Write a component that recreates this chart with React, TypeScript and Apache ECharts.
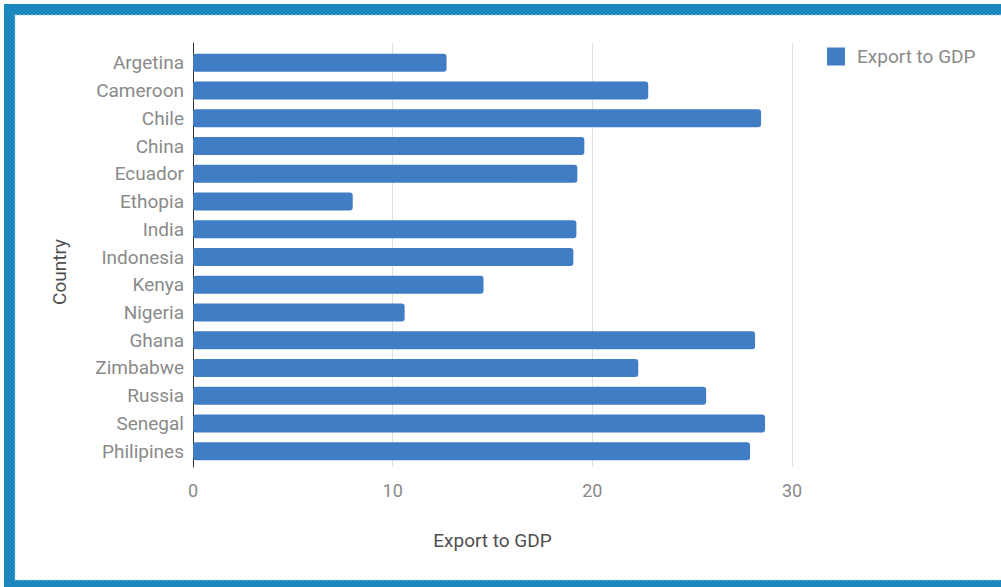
import React, { useEffect, useRef } from "react";
import * as echarts from "echarts";

const countries = [
  "Argetina", "Cameroon", "Chile", "China", "Ecuador", "Ethopia", "India",
  "Indonesia", "Kenya", "Nigeria", "Ghana", "Zimbabwe", "Russia", "Senegal", "Philipines",
];
const exportToGdp = [
  12.7, 22.8, 28.45, 19.6, 19.25, 8.0, 19.2, 19.05, 14.55, 10.6, 28.15, 22.3, 25.7, 28.65, 27.9,
];
const xTicks = [0, 10, 20, 30];
const seriesName = "Export to GDP";

export default function App() {
  const ref = useRef<HTMLDivElement>(null);
  useEffect(() => {
    if (!ref.current) return;
    const chart = echarts.init(ref.current, null, { renderer: "svg" });
    const font = "Roboto, 'Noto Sans', sans-serif";
    const xMin = xTicks[0];
    const xMax = xTicks[xTicks.length - 1];
    const xStep = xTicks[1] - xTicks[0];
    chart.setOption({
      animation: false,
      backgroundColor: "#ffffff",
      textStyle: { fontFamily: font },
      graphic: [
        { type: "rect", z: -10, silent: true, shape: { x: 4, y: 4, width: 997, height: 583 }, style: { fill: "#1b87bf" } },
        { type: "rect", z: -9, silent: true, shape: { x: 15, y: 15, width: 990, height: 565 }, style: { fill: "#ffffff", stroke: "#a9d0ea", lineWidth: 1, lineDash: [2, 2] } },
        {
          type: "text", x: 59, y: 272, rotation: Math.PI / 2,
          style: { text: "Country", font: `19px ${font}`, fill: "#505050", align: "center", verticalAlign: "middle" },
        },
      ],
      legend: {
        data: [seriesName],
        left: 827, top: 47, padding: 0,
        itemWidth: 18, itemHeight: 18,
        icon: "rect",
        textStyle: { fontSize: 19, color: "#8a8a8a", fontFamily: font, padding: [0, 0, 0, 7] },
      },
      grid: [
        { left: 193, top: 43, width: 599, height: 424, containLabel: false },
        { left: 193, top: 49, width: 599, height: 416, containLabel: false },
      ],
      xAxis: [
        {
          gridIndex: 0, type: "value", min: xMin, max: xMax, interval: xStep,
          axisLine: { show: false }, axisTick: { show: false },
          splitLine: { show: true, lineStyle: { color: "#e0e0e0", width: 1 } },
          axisLabel: { color: "#8a8a8a", fontSize: 18, margin: 14, fontFamily: font },
          name: "Export to GDP", nameLocation: "middle", nameGap: 64,
          nameTextStyle: { color: "#505050", fontSize: 19, fontFamily: font },
        },
        { gridIndex: 1, type: "value", min: xMin, max: xMax, show: false },
      ],
      yAxis: [
        {
          gridIndex: 0, type: "value", min: 0, max: 1,
          axisLine: { show: true, lineStyle: { color: "#333333", width: 1 } },
          axisTick: { show: false }, axisLabel: { show: false }, splitLine: { show: false },
        },
        {
          gridIndex: 1, type: "category", data: countries, inverse: true,
          axisLine: { show: false }, axisTick: { show: false },
          axisLabel: { color: "#8a8a8a", fontSize: 19, margin: 9, fontFamily: font },
        },
      ],
      series: [
        {
          name: seriesName, type: "bar", xAxisIndex: 1, yAxisIndex: 1,
          data: exportToGdp, barWidth: 18,
          itemStyle: { color: "#407dc4", borderRadius: 3 },
        },
      ],
    });
    return () => chart.dispose();
  }, []);
  return (
    <div
      ref={ref}
      style={{ position: "absolute", left: 0, top: 0, width: 1001, height: 587 }}
    />
  );
}
